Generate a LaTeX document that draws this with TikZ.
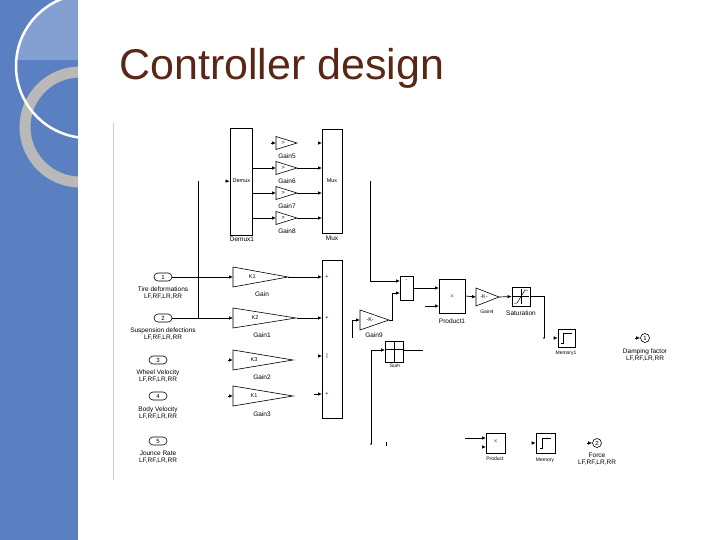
\documentclass[tikz,border=0pt]{standalone}
\usepackage{fontspec}
\setmainfont{Liberation Sans}
\usetikzlibrary{arrows.meta}
\definecolor{strip}{HTML}{5B80C2}
\definecolor{titlec}{HTML}{5A2616}
\newcommand{\mygain}[6]{% name, x, y(center), w, h, text
  \draw[blk] (#2,#3-#5/2) -- (#2+#4,#3) -- (#2,#3+#5/2) -- cycle;
  \node[txt] (#1) at (#2+#4*0.35,#3) {#6};}
\begin{document}
\begin{tikzpicture}[x=1pt,y=-1pt,
  blk/.style={draw=black,line width=0.6pt,fill=white},
  wire/.style={draw=black,line width=0.7pt},
  arr/.style={wire,-{Latex[length=4pt,width=3.5pt]}},
  txt/.style={font=\fontsize{5.5}{6}\selectfont,inner sep=0.5pt},
  lbl/.style={font=\fontsize{6.5}{7}\selectfont,inner sep=0pt,align=center},
  port/.style={draw=black,line width=0.6pt,rounded corners=4pt,minimum width=18pt,minimum height=8pt,inner sep=0pt,font=\fontsize{6}{6}\selectfont},
  oport/.style={draw=black,line width=0.6pt,circle,minimum size=9pt,inner sep=0pt,font=\fontsize{6}{6}\selectfont}]
\useasboundingbox (0,0) rectangle (720,540);
\fill[white] (0,0) rectangle (720,540);
% decorative strip
\begin{scope}
\clip (0,0) rectangle (78,540);
\fill[strip] (0,0) rectangle (78,540);
\begin{scope}
\clip (88,66) circle[radius=72];
\fill[white,opacity=0.25] (0,0) rectangle (78,60);
\end{scope}
\draw[gray!55!white,line width=11pt] (80,127) circle[radius=55];
\draw[white,line width=2.5pt] (88,66) circle[radius=72];
\end{scope}
% title
\node[anchor=west,text=titlec,font=\fontsize{43}{46}\selectfont,inner sep=0pt] (title) at (119,68) {Controller design};
\draw[gray!40,line width=0.4pt] (113,123) -- (113,480);
% Demux / Mux
\node[blk,minimum width=22pt,minimum height=107pt,inner sep=0pt] (demux) at (241,181.5) {};
\node[txt,anchor=west] (demuxt) at (232,181) {Demux};
\node[lbl] (demuxl) at (242,239) {Demux1};
\node[blk,minimum width=20pt,minimum height=104pt,inner sep=0pt] (mux) at (332,181) {};
\node[txt] (muxt) at (332,181) {Mux};
\node[lbl] (muxl) at (332,238) {Mux};
\draw[arr] (225,181) -- (demux.west);
\mygain{g5}{276}{143}{21}{13}{>}
\mygain{g6}{276}{168}{21}{13}{>}
\mygain{g7}{276}{193}{21}{13}{>}
\mygain{g8}{276}{218}{21}{13}{>}
\node[lbl] (g5l) at (287,156) {Gain5};
\node[lbl] (g6l) at (287,181) {Gain6};
\node[lbl] (g7l) at (287,206) {Gain7};
\node[lbl] (g8l) at (287,231) {Gain8};
\draw[arr] (271,143) -- (276,143);
\draw[arr] (318,143) -- (322,143);
\foreach \y in {168,193,218}{
  \draw[arr] (252,\y) -- (276,\y);
  \draw[arr] (297,\y) -- (322,\y);}
% big sum
\node[blk,minimum width=20pt,minimum height=158pt,inner sep=0pt] (bsum) at (332,339) {};
\node[txt] at (327,277) {+};
\node[txt] at (327,318) {+};
\node[txt] at (327,356) {|};
\node[txt] at (327,394) {+};
% inports
\node[port] (in1) at (163,277) {1};
\node[lbl] (in1l) at (163,293.5) {Tire deformations\\LF,RF,LR,RR};
\node[port] (in2) at (163,318) {2};
\node[lbl] (in2l) at (163,334.5) {Suspension defections\\LF,RF,LR,RR};
\node[port] (in3) at (158,360) {3};
\node[lbl] (in3l) at (158,376) {Wheel Velocity\\LF,RF,LR,RR};
\node[port] (in4) at (158,396) {4};
\node[lbl] (in4l) at (158,413) {Body Velocity\\LF,RF,LR,RR};
\node[port] (in5) at (158,441) {5};
\node[lbl] (in5l) at (158,457) {Jounce Rate\\LF,RF,LR,RR};
% gains K
\mygain{g0}{233}{277}{55}{20}{K1}
\mygain{g1}{233}{318}{63}{20}{K2}
\mygain{g2}{233}{360}{60}{20}{K3}
\mygain{g3}{233}{396}{60}{20}{K1}
\node[lbl] (g0l) at (262,294) {Gain};
\node[lbl] (g1l) at (262,335) {Gain1};
\node[lbl] (g2l) at (262,377) {Gain2};
\node[lbl] (g3l) at (262,414) {Gain3};
\draw[arr] (in1.east) -- (233,277);
\draw[arr] (in2.east) -- (233,318);
\draw[arr] (228,360) -- (233,360);
\draw[arr] (228,396) -- (233,396);
\draw[arr] (288,277) -- (322,277);
\draw[arr] (297,318) -- (322,318);
\draw[arr] (318,356) -- (322,356);
\draw[arr] (314,394) -- (322,394);
\coordinate (j1) at (198,318);
\draw[wire] (198,181) -- (j1);
% right part
\node[blk,minimum width=13pt,minimum height=24pt,inner sep=0pt] (ssum) at (406.5,288) {};
\node[txt] at (406.5,281) {-};
\draw[arr] (370,181) |- (400,281);
\node[blk,minimum width=26pt,minimum height=34pt,inner sep=0pt] (prod1) at (452,296) {};
\node[txt] at (452,296) {$\times$};
\node[lbl] (prod1l) at (452,321) {Product1};
\draw[arr] (ssum.east) -- (439,288);
\draw[arr] (425,306) -- (439,306);
\mygain{g9}{360}{320}{29}{20}{-K-}
\node[lbl] (g9l) at (374,335) {Gain9};
\draw[arr] (352,338) |- (360,320);
\draw[arr] (389,320) -- (392,320) |- (400,293);
\mygain{g4}{476}{297}{23}{18}{-K-}
\node[lbl,font=\fontsize{5}{6}\selectfont] (g4l) at (487,312) {Gain4};
\draw[arr] (prod1.east) -- (476,297);
\node[blk,minimum width=18pt,minimum height=19pt,inner sep=0pt] (sat) at (521,296.5) {};
\draw[line width=0.5pt] (514,303) -- (517,303) -- (525,290) -- (528,290);
\draw[line width=0.4pt] (521,289) -- (521,304) (513,296.5) -- (529,296.5);
\node[lbl] (satl) at (521,313) {Saturation};
\draw[arr] (499,297) -- (sat.west);
\coordinate (satend) at (544,338);
\draw[wire] (sat.east) -| (satend);
\fill (satend) circle[radius=0.8];
\node[blk,minimum width=17pt,minimum height=18pt,inner sep=0pt] (mem1) at (566.5,338) {};
\draw[line width=0.5pt] (561,343) -- (563,343) -- (563,333) -- (572,333);
\node[lbl,font=\fontsize{5}{6}\selectfont] (mem1l) at (566,353) {Memory1};
\draw[arr] (554,338) -- (mem1.west);
\node[oport] (out1) at (645,338) {1};
\draw[arr] (635,338) -- (out1.west);
\node[lbl] (out1l) at (645,355.5) {Damping factor\\LF,RF,LR,RR};
% Sum grid
\node[blk,minimum width=18pt,minimum height=21pt,inner sep=0pt] (gsum) at (394,351.5) {};
\draw[line width=0.5pt] (394,341) -- (394,362) (385,349) -- (403,349);
\node[lbl,font=\fontsize{5}{6}\selectfont] (gsuml) at (395,366) {Sum};
\coordinate (sbot) at (371,444);
\draw[arr] (sbot) |- (385,350);
\fill (sbot) circle[radius=0.8];
\draw[wire] (403,350) -- (423,350);
\draw[wire] (386,442) -- (386,446);
% bottom
\node[blk,minimum width=19pt,minimum height=20pt,inner sep=0pt] (prod) at (495.5,443) {};
\node[txt] at (495.5,441) {$\times$};
\node[lbl,font=\fontsize{5}{6}\selectfont] (prodl) at (495,459) {Product};
\draw[arr] (465,438) -- (486,438);
\draw[arr] (482,447) -- (486,447);
\node[blk,minimum width=19pt,minimum height=20pt,inner sep=0pt] (mem) at (545.5,443) {};
\draw[line width=0.5pt] (540,448) -- (542,448) -- (542,438) -- (551,438);
\node[lbl,font=\fontsize{5}{6}\selectfont] (meml) at (545,460) {Memory};
\draw[arr] (532,443) -- (mem.west);
\node[oport] (out2) at (597,443) {2};
\draw[arr] (587,443) -- (out2.west);
\node[lbl] (out2l) at (597,459) {Force\\LF,RF,LR,RR};
\end{tikzpicture}
\end{document}
